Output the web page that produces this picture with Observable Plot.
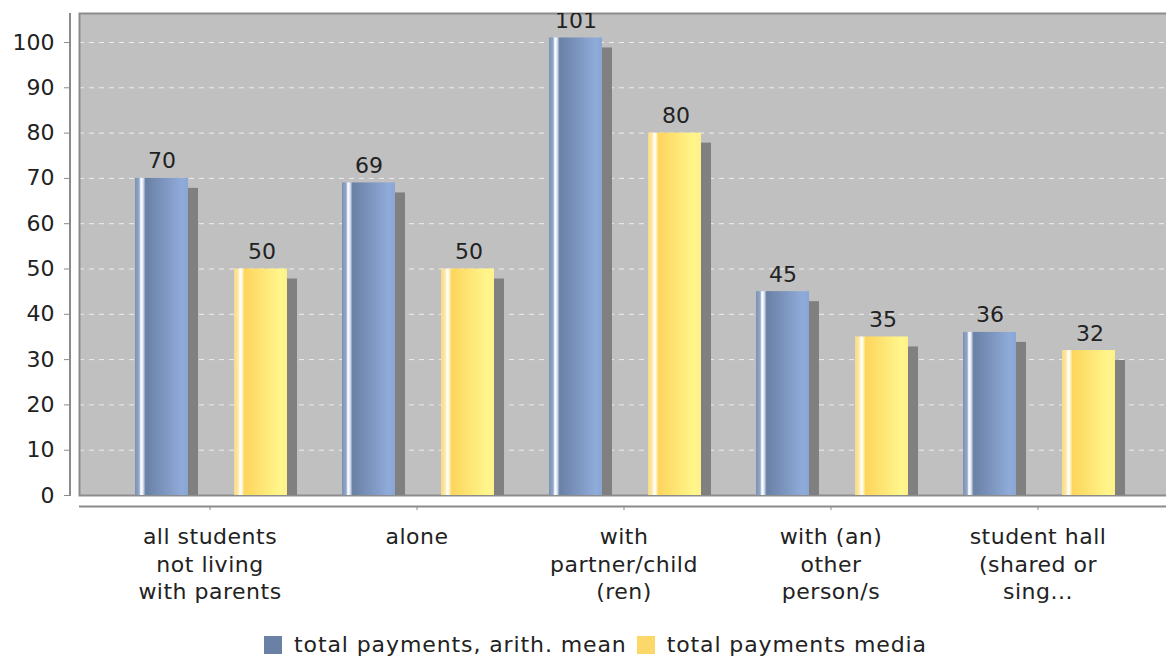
<!DOCTYPE html>
<html><head><meta charset="utf-8">
<script src="https://cdn.jsdelivr.net/npm/d3@7"></script>
<script src="https://cdn.jsdelivr.net/npm/@observablehq/plot@0.6"></script>
<style>
html,body{margin:0;padding:0;background:#fff;overflow:hidden;width:1166px;height:657px;}
#chart{position:absolute;left:0;top:0;}
#legend{position:absolute;left:0;top:632px;width:1191px;display:flex;justify-content:center;align-items:center;font:22px "DejaVu Sans";color:#222;white-space:nowrap;letter-spacing:0.9px;}
.item{display:flex;align-items:center;margin:0 5px;}
.sw{display:inline-block;width:18px;height:18px;margin-right:12px;}
svg .xlab text{letter-spacing:0.5px;}
</style></head><body>
<div id="chart"></div><div id="legend"></div>
<script>
const categories = ["all students not living with parents", "alone", "with partner/child (ren)", "with (an) other person/s", "student hall (shared or sing..."];
const categoryLabels = ["all students\nnot living\nwith parents", "alone", "with\npartner/child\n(ren)", "with (an)\nother\nperson/s", "student hall\n(shared or\nsing..."];
const meanValues = [70, 69, 101, 45, 36];
const medianValues = [50, 50, 80, 35, 32];
const seriesNames = ["total payments, arith. mean", "total payments media"];
const seriesColors = ["#6a80a4", "#fcd86a"];
const yTicks = [0, 10, 20, 30, 40, 50, 60, 70, 80, 90, 100];
const yMax = 106.4;

const rows = categories.map((c, i) => ({category: c, mean: meanValues[i], median: medianValues[i]}));
const labelOf = new Map(categories.map((c, i) => [c, categoryLabels[i]]));

function gradientDefs() {
  const defs = d3.create("svg:defs");
  const mk = (id, stops) => {
    const g = defs.append("linearGradient").attr("id", id).attr("x1", 0).attr("x2", 1).attr("y1", 0).attr("y2", 0);
    stops.forEach(([o, c]) => g.append("stop").attr("offset", o).attr("stop-color", c));
  };
  mk("gBlue", [[0, "#7b91b4"], [0.08, "#93a8c8"], [0.1, "#e8eef7"], [0.13, "#ffffff"], [0.16, "#c9d5e8"], [0.2, "#6a80a5"], [0.88, "#8fabd9"], [1, "#89a6d4"]]);
  mk("gYellow", [[0, "#f7dc84"], [0.08, "#fde8a8"], [0.1, "#fff8e0"], [0.13, "#ffffff"], [0.16, "#fff0bf"], [0.2, "#fdd55c"], [0.88, "#fff68c"], [1, "#fff08a"]]);
  return defs.node();
}

function yAxisLine(index, scales, values, dims) {
  return d3.create("svg:line")
    .attr("x1", dims.marginLeft - 9).attr("x2", dims.marginLeft - 9)
    .attr("y1", dims.marginTop).attr("y2", scales.y(0) + 1)
    .attr("stroke", "#8a8a8a").attr("stroke-width", 2).node();
}

const fs = 22;
const chart = Plot.plot({
  width: 1172,
  height: 630,
  marginLeft: 79,
  marginRight: 0,
  marginTop: 13,
  marginBottom: 135,
  style: {fontFamily: "DejaVu Sans", fontSize: "22px", maxWidth: "none", background: "transparent", overflow: "visible"},
  x: {domain: categories, paddingInner: 0, paddingOuter: 0.13, label: null},
  y: {domain: [0, yMax], label: null},
  marks: [
    gradientDefs,
    Plot.frame({fill: "#c0c0c0"}),
    Plot.gridY({ticks: yTicks.slice(1), stroke: "#f0f0f0", strokeOpacity: 0.95, strokeWidth: 1, strokeDasharray: "5,5"}),
    Plot.frame({stroke: "#8c8c8c", strokeWidth: 2}),
    // shadows
    Plot.barY(rows, {x: "category", y: "mean", fill: "#808080", insetLeft: 27, insetRight: 127, insetTop: 10, dx: 10}),
    Plot.barY(rows, {x: "category", y: "median", fill: "#808080", insetLeft: 126, insetRight: 28, insetTop: 10, dx: 10}),
    // bars
    Plot.barY(rows, {x: "category", y: "mean", fill: "url(#gBlue)", insetLeft: 27, insetRight: 127}),
    Plot.barY(rows, {x: "category", y: "median", fill: "url(#gYellow)", insetLeft: 126, insetRight: 28}),
    // value labels
    Plot.text(rows, {x: "category", y: "mean", text: d => String(d.mean), dx: -50, dy: -10, lineAnchor: "bottom", fontSize: fs, fill: "#222", clip: true}),
    Plot.text(rows, {x: "category", y: "median", text: d => String(d.median), dx: 50, dy: -10, lineAnchor: "bottom", fontSize: fs, fill: "#222", clip: true}),
    // axes
    yAxisLine,
    Plot.axisY({ticks: yTicks, tickFormat: d => String(d), dx: -9, tickSize: 6, tickPadding: 10, fontSize: fs, stroke: "#8a8a8a", fill: "#222", label: null}),
    Plot.ruleY([0], {dy: 11, stroke: "#8a8a8a", strokeWidth: 2}),
    Plot.axisX({tickFormat: c => labelOf.get(c), dx: -2, dy: 11, tickSize: 4, tickPadding: 14, lineHeight: 1.25, fontSize: fs, stroke: "#8a8a8a", fill: "#222", label: null, className: "xlab"})
  ]
});
document.getElementById("chart").appendChild(chart);

const legend = document.getElementById("legend");
seriesNames.forEach((name, i) => {
  const item = document.createElement("span");
  item.className = "item";
  const sw = document.createElement("span");
  sw.className = "sw";
  sw.style.background = seriesColors[i];
  item.appendChild(sw);
  item.appendChild(document.createTextNode(name));
  legend.appendChild(item);
});
</script>
</body></html>
